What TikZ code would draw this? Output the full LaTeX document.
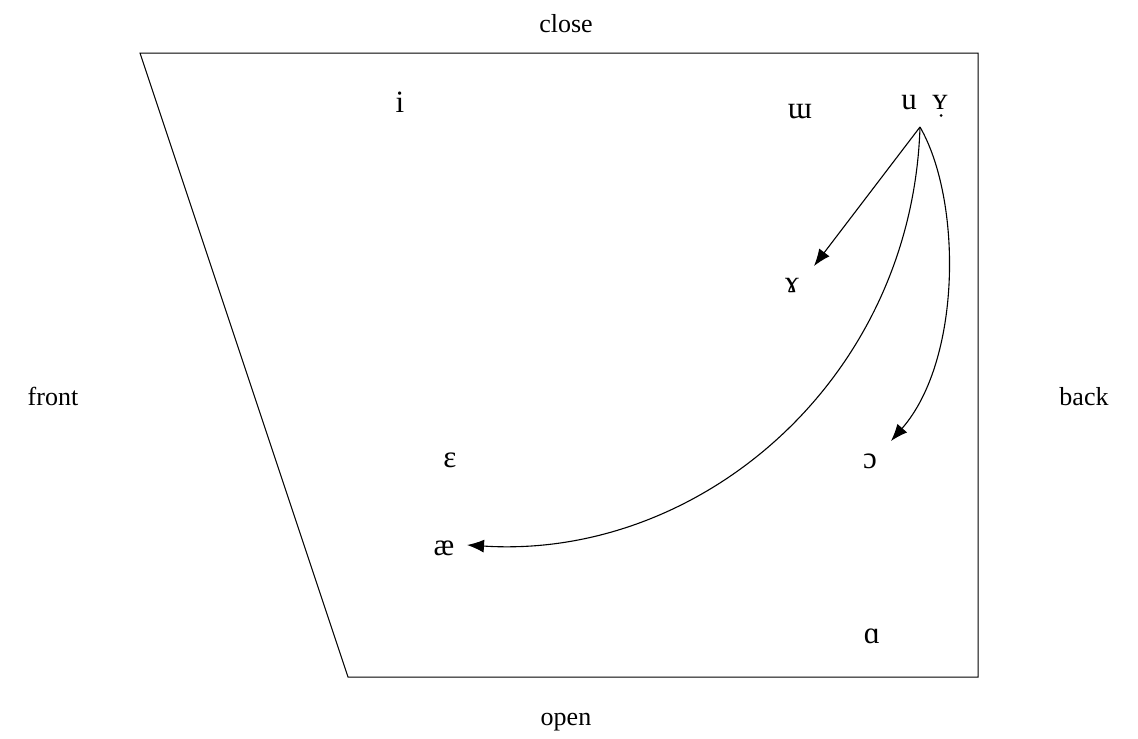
\documentclass[tikz,border=0pt]{standalone}
\usepackage{fontspec}
\setmainfont{Liberation Serif}
\usetikzlibrary{arrows.meta}
\begin{document}
\begin{tikzpicture}[x=1pt,y=-1pt,
  lab/.style={font=\fontsize{26}{30}\selectfont, inner sep=0pt, anchor=base},
  vow/.style={font=\fontsize{31}{34}\selectfont, inner sep=0pt, anchor=base},
  arr/.style={-{Latex[length=17pt,width=13pt]}, line width=1.1pt}]
\useasboundingbox (0,0) rectangle (1138,739);
\coordinate (tl) at (140,53);
\coordinate (tr) at (978,53);
\coordinate (br) at (978,677);
\coordinate (bl) at (348,677);
\draw[line width=1pt] (tl) -- (tr) -- (br) -- (bl) -- cycle;
\node[lab] (close) at (566,32) {close};
\node[lab] (open) at (566,725) {open};
\node[lab] (front) at (53,405) {front};
\node[lab] (back) at (1084,405) {back};
\node[vow] (i) at (400,112) {i};
\node[vow] (uu) at (800,118) {ɯ};
\node[vow] (u) at (909,109) {u};
\node[vow] (y) at (940,109) {ʏ};
\coordinate (ydot) at (941,115.5);
\fill (ydot) circle (1.5pt);
\node[vow] (ram) at (792,292) {ɤ};
\node[vow] (eps) at (450,467) {ɛ};
\node[vow] (oo) at (870,468) {ɔ};
\node[vow] (ae) at (444,555) {æ};
\node[vow] (a) at (872,643) {ɑ};
\coordinate (src) at (920,127);
\coordinate (ramtip) at (814,266);
\coordinate (aetip) at (467,545);
\coordinate (ootip) at (891,441);
\draw[arr] (src) -- (ramtip);
\draw[arr] (src) .. controls (912,380) and (700,560) .. (aetip);
\draw[arr] (src) .. controls (962,200) and (962,360) .. (ootip);
\end{tikzpicture}
\end{document}
